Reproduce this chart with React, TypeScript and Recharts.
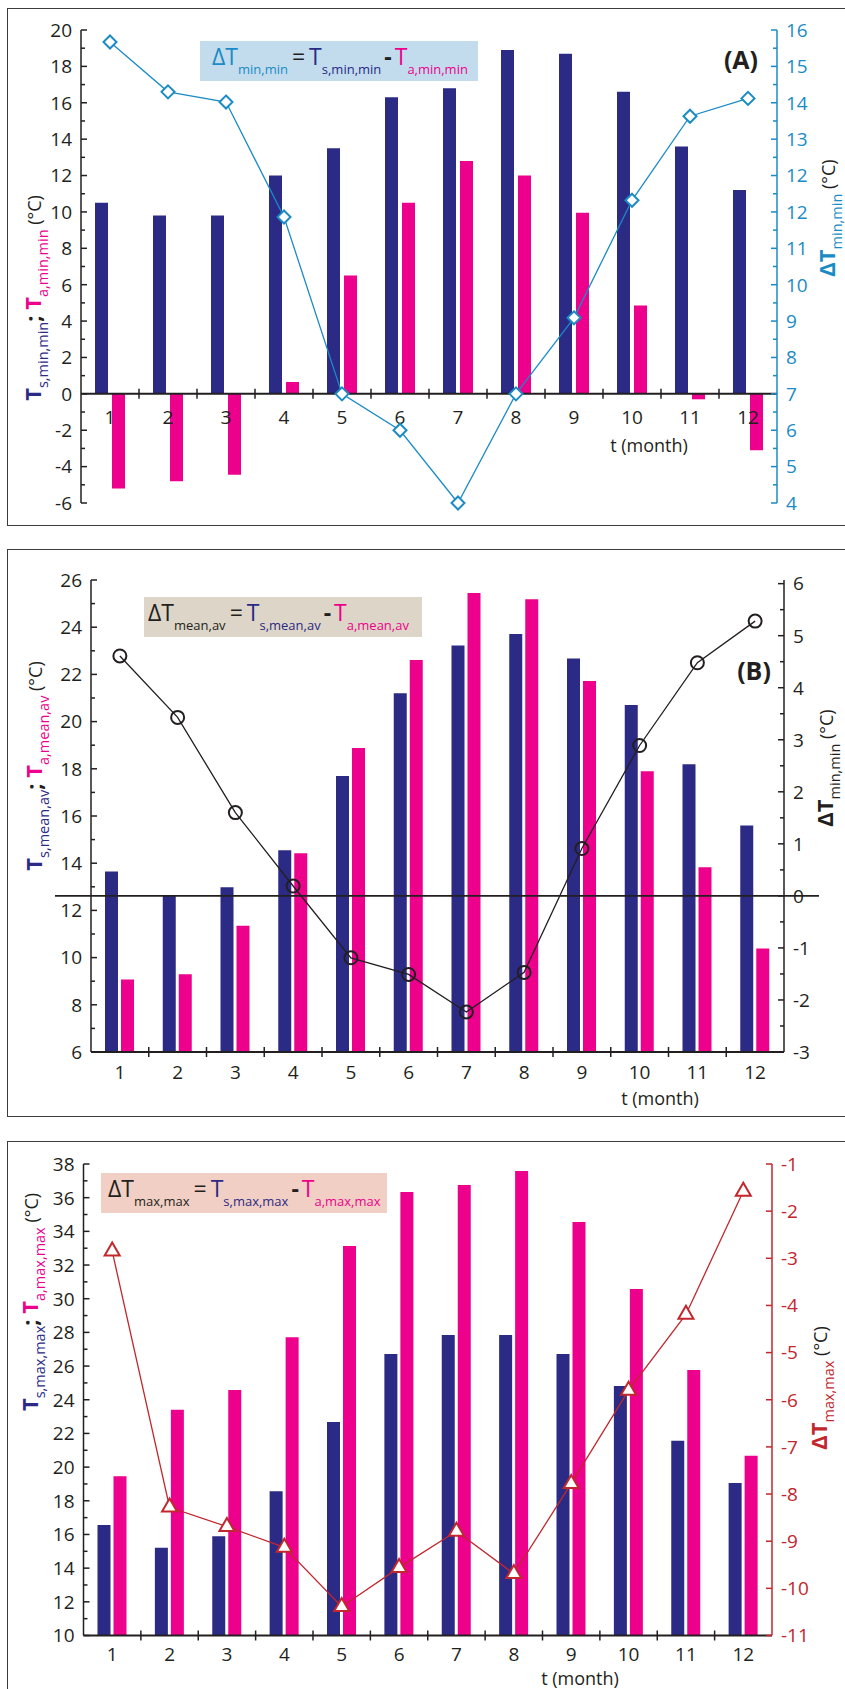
import React from 'react';
import { ComposedChart, Bar, Line, XAxis, YAxis, ReferenceLine, ReferenceDot } from 'recharts';

const FONT = "'Open Sans', 'Noto Sans', sans-serif";
const NAVY = '#2b2a85';
const MAGENTA = '#ec008c';
const BLUE = '#1b8bc5';
const RED = '#c1272d';
const INK = '#231f20';

const months = ['1', '2', '3', '4', '5', '6', '7', '8', '9', '10', '11', '12'];

// (A) minimum of the minimums
const tsMinMin = [10.5, 9.8, 9.8, 12.0, 13.5, 16.3, 16.8, 18.9, 18.7, 16.6, 13.6, 11.2];
const taMinMin = [-5.2, -4.8, -4.45, 0.65, 6.5, 10.5, 12.8, 12.0, 9.95, 4.85, -0.3, -3.1];
const dMinMin = [16.67, 15.3, 15.02, 11.86, 7.0, 6.0, 4.0, 7.0, 9.09, 12.32, 14.63, 15.12];

// (B) mean of the averages
const tsMeanAv = [13.65, 12.65, 12.98, 14.55, 17.69, 21.2, 23.22, 23.71, 22.67, 20.7, 18.19, 15.6];
const taMeanAv = [9.07, 9.29, 11.35, 14.42, 18.88, 22.61, 25.45, 25.18, 21.72, 17.9, 13.83, 10.39];
const dMeanAv = [4.61, 3.43, 1.6, 0.19, -1.19, -1.51, -2.23, -1.47, 0.91, 2.89, 4.48, 5.28];

// (C) maximum of the maximums
const tsMaxMax = [16.56, 15.21, 15.9, 18.57, 22.68, 26.72, 27.84, 27.84, 26.72, 24.81, 21.56, 19.06];
const taMaxMax = [19.46, 23.4, 24.58, 27.71, 33.13, 36.33, 36.75, 37.58, 34.55, 30.57, 25.77, 20.67];
const dMaxMax = [-2.85, -8.28, -8.69, -9.13, -10.39, -9.56, -8.79, -9.69, -7.78, -5.8, -4.19, -1.58];

// axis ticks
const aLeftTicks = [-6, -4, -2, 0, 2, 4, 6, 8, 10, 12, 14, 16, 18, 20];
const aRightTicks = [4, 5, 6, 7, 8, 9, 10, 11, 12, 13, 14, 15, 16, 17];
const aRightLabels = ['4', '5', '6', '7', '8', '9', '10', '11', '12', '12', '13', '14', '15', '16'];
const bLeftTicks = [6, 8, 10, 12, 14, 16, 18, 20, 22, 24, 26];
const bRightTicks = [-3, -2, -1, 0, 1, 2, 3, 4, 5, 6];
const bRightLabels = ['-3', '-2', '-1', '0', '1', '2', '3', '4', '5', '6'];
const cLeftTicks = [10, 12, 14, 16, 18, 20, 22, 24, 26, 28, 30, 32, 34, 36, 38];
const cRightTicks = [-11, -10, -9, -8, -7, -6, -5, -4, -3, -2, -1];
const cRightLabels = ['-11', '-10', '-9', '-8', '-7', '-6', '-5', '-4', '-3', '-2', '-1'];

const withMinor = (ticks: number[]) => {
  const out: number[] = [];
  ticks.forEach((t, i) => {
    out.push(t);
    if (i < ticks.length - 1) out.push((t + ticks[i + 1]) / 2);
  });
  return out;
};

function YTick({ x, y, value, side, color, majors, labels }: any) {
  const i = majors.indexOf(value);
  const dir = side === 'left' ? 1 : -1;
  return (
    <g>
      <line x1={x} x2={x + dir * (i >= 0 ? 6 : 4)} y1={y} y2={y} stroke={color} strokeWidth={1.5} />
      {i >= 0 && (
        <text
          x={x - dir * 9}
          y={y}
          dy="0.36em"
          textAnchor={side === 'left' ? 'end' : 'start'}
          fill={color}
          fontSize={19}
          fontWeight={500}
          fontFamily={FONT}
        >
          {labels ? labels[i] : String(value)}
        </text>
      )}
    </g>
  );
}

function markerRenderer(kind: string, color: string) {
  return (p: any) => {
    const { cx, cy, index } = p;
    if (cx == null || cy == null) return <g key={`m-${index}`} />;
    if (kind === 'diamond') {
      const s = 6.5;
      return (
        <path
          key={`m-${index}`}
          d={`M${cx},${cy - s}L${cx + s},${cy}L${cx},${cy + s}L${cx - s},${cy}Z`}
          fill="#fff"
          stroke={color}
          strokeWidth={2}
        />
      );
    }
    if (kind === 'circle') {
      return <circle key={`m-${index}`} cx={cx} cy={cy} r={6.5} fill="none" stroke={color} strokeWidth={2} />;
    }
    const h = 13;
    const w = 7.5;
    return (
      <path
        key={`m-${index}`}
        d={`M${cx},${cy - (2 * h) / 3}L${cx + w},${cy + h / 3}L${cx - w},${cy + h / 3}Z`}
        fill="#fff"
        stroke={color}
        strokeWidth={2}
      />
    );
  };
}

type PanelProps = {
  top: number;
  height: number;
  margin: { top: number; right: number; bottom: number; left: number };
  ts: number[];
  ta: number[];
  delta: number[];
  leftDomain: [number, number];
  leftTicks: number[];
  rightDomain: [number, number];
  rightTicks: number[];
  rightLabels: string[];
  rightMinor: boolean;
  rightColor: string;
  lineColor: string;
  marker: string;
  base: number;
  labelGap: number;
  barGap: number;
  extendedZero?: boolean;
};

function Panel(props: PanelProps) {
  const {
    top, height, margin, ts, ta, delta, leftDomain, leftTicks, rightDomain, rightTicks,
    rightLabels, rightMinor, rightColor, lineColor, marker, base, labelGap, barGap, extendedZero,
  } = props;
  const data = months.map((m, i) => ({ month: m, ts: ts[i], ta: ta[i], d: delta[i] }));
  const plotWidth = 845 - margin.left - margin.right - 100;
  const step = plotWidth / months.length;

  return (
    <div style={{ position: 'absolute', left: 0, top }}>
      <ComposedChart width={845} height={height} data={data} margin={margin} barSize={13} barGap={barGap}>
        <XAxis dataKey="month" hide />
        <YAxis
          yAxisId="left"
          orientation="left"
          width={50}
          domain={leftDomain}
          ticks={withMinor(leftTicks)}
          interval={0}
          tickSize={0}
          tickMargin={0}
          tickLine={false}
          axisLine={{ stroke: INK, strokeWidth: 1.5 }}
          tick={(p: any) => <YTick x={p.x} y={p.y} value={p.payload.value} side="left" color={INK} majors={leftTicks} />}
        />
        <YAxis
          yAxisId="right"
          orientation="right"
          width={50}
          domain={rightDomain}
          ticks={rightMinor ? withMinor(rightTicks) : rightTicks}
          interval={0}
          tickSize={0}
          tickMargin={0}
          tickLine={false}
          axisLine={{ stroke: rightColor, strokeWidth: 1.5 }}
          tick={(p: any) => (
            <YTick x={p.x} y={p.y} value={p.payload.value} side="right" color={rightColor} majors={rightTicks} labels={rightLabels} />
          )}
        />
        <Bar yAxisId="left" dataKey="ts" fill={NAVY} isAnimationActive={false} />
        <Bar yAxisId="left" dataKey="ta" fill={MAGENTA} isAnimationActive={false} />
        <ReferenceLine yAxisId="left" y={base} stroke={INK} strokeWidth={2} ifOverflow="visible" />
        {extendedZero && (
          <ReferenceDot
            yAxisId="right"
            x={months[0]}
            y={0}
            ifOverflow="visible"
            shape={(p: any) => (
              <line
                x1={p.cx - step / 2 - 36}
                x2={p.cx - step / 2 + plotWidth + 35}
                y1={p.cy}
                y2={p.cy}
                stroke={INK}
                strokeWidth={1.6}
              />
            )}
          />
        )}
        {months.map((m, i) => (
          <ReferenceDot
            key={m}
            yAxisId="left"
            x={m}
            y={base}
            ifOverflow="visible"
            shape={(p: any) => (
              <g>
                {i < months.length - 1 && (
                  <line x1={p.cx + step / 2} x2={p.cx + step / 2} y1={p.cy - 5} y2={p.cy + 5} stroke={INK} strokeWidth={1.5} />
                )}
                <text
                  x={p.cx}
                  y={p.cy + labelGap}
                  dy="0.36em"
                  textAnchor="middle"
                  fill={INK}
                  fontSize={19}
                  fontWeight={500}
                  fontFamily={FONT}
                >
                  {m}
                </text>
              </g>
            )}
          />
        ))}
        <Line
          yAxisId="right"
          dataKey="d"
          type="linear"
          stroke={lineColor}
          strokeWidth={1.3}
          dot={markerRenderer(marker, lineColor)}
          activeDot={false}
          isAnimationActive={false}
        />
      </ComposedChart>
    </div>
  );
}

const sub = (text: string, color: string, size = 13, shift = -9) => (
  <span style={{ color, fontSize: size, verticalAlign: shift, fontWeight: 500 }}>{text}</span>
);

function Formula({ left, top, width, bg, dColor, s, pad }: any) {
  return (
    <div
      style={{
        position: 'absolute', left, top, width, height: 40, background: bg, boxSizing: 'border-box',
        paddingLeft: pad, paddingTop: 3, fontFamily: FONT, fontSize: 23, fontWeight: 500, lineHeight: '24px',
        whiteSpace: 'nowrap', color: INK,
      }}
    >
      <span style={{ color: dColor }}>ΔT</span>
      {sub(s, dColor)}
      <span style={{ margin: '0 4px' }}>=</span>
      <span style={{ color: NAVY }}>T</span>
      {sub('s,' + s, NAVY)}
      <span style={{ margin: '0 3px', fontWeight: 700 }}>-</span>
      <span style={{ color: MAGENTA }}>T</span>
      {sub('a,' + s, MAGENTA)}
    </div>
  );
}

function VTitle({ cx, cy, children }: any) {
  return (
    <div
      style={{
        position: 'absolute', left: cx, top: cy, transform: 'translate(-50%, -50%) rotate(-90deg)',
        whiteSpace: 'nowrap', fontFamily: FONT, lineHeight: 1, color: INK,
      }}
    >
      {children}
    </div>
  );
}

const bigT = (color: string, text = 'T') => (
  <span style={{ color, fontSize: 22, fontWeight: 700 }}>{text}</span>
);
const unit = <span style={{ fontSize: 18, fontWeight: 500, color: INK }}>&nbsp;(°C)</span>;

function LeftTitle({ cx, cy, s }: any) {
  return (
    <VTitle cx={cx} cy={cy}>
      {bigT(NAVY)}
      {sub('s,' + s, NAVY, 14.5, -7)}
      <span style={{ fontSize: 22, fontWeight: 700 }}>;&nbsp;</span>
      {bigT(MAGENTA)}
      {sub('a,' + s, MAGENTA, 14.5, -7)}
      {unit}
    </VTitle>
  );
}

function RightTitle({ cx, cy, s, color }: any) {
  return (
    <VTitle cx={cx} cy={cy}>
      {bigT(color, 'ΔT')}
      {sub(s, color, 14.5, -7)}
      {unit}
    </VTitle>
  );
}

const frame = (top: number, height: number) => ({
  position: 'absolute' as const, left: 7, top, width: 900, height, boxSizing: 'border-box' as const,
  border: '1.5px solid #3c3c3c',
});

const textAt = (cx: number, cy: number, size: number, weight: number) => ({
  position: 'absolute' as const, left: cx, top: cy, transform: 'translate(-50%, -50%)', whiteSpace: 'nowrap' as const,
  fontFamily: FONT, fontSize: size, fontWeight: weight, color: INK, lineHeight: 1,
});

export default function App() {
  return (
    <div style={{ position: 'relative', width: 845, height: 1689, overflow: 'hidden', background: '#fff' }}>
      <style>{'body{margin:0}'}</style>
      <div style={frame(8, 518)} />
      <div style={frame(549, 568)} />
      <div style={frame(1141, 600)} />

      <Panel
        top={0}
        height={530}
        margin={{ top: 30, right: 18, bottom: 27, left: 31 }}
        ts={tsMinMin}
        ta={taMinMin}
        delta={dMinMin}
        leftDomain={[-6, 20]}
        leftTicks={aLeftTicks}
        rightDomain={[4, 17]}
        rightTicks={aRightTicks}
        rightLabels={aRightLabels}
        rightMinor
        rightColor={BLUE}
        lineColor={BLUE}
        marker="diamond"
        base={0}
        labelGap={23}
        barGap={4}
      />
      <Panel
        top={540}
        height={580}
        margin={{ top: 40, right: 11, bottom: 68, left: 41 }}
        ts={tsMeanAv}
        ta={taMeanAv}
        delta={dMeanAv}
        leftDomain={[6, 26]}
        leftTicks={bLeftTicks}
        rightDomain={[-3, 6.07]}
        rightTicks={bRightTicks}
        rightLabels={bRightLabels}
        rightMinor
        rightColor={INK}
        lineColor={INK}
        marker="circle"
        base={6}
        labelGap={20}
        barGap={3}
        extendedZero
      />
      <Panel
        top={1130}
        height={559}
        margin={{ top: 34, right: 23, bottom: 53.5, left: 33.5 }}
        ts={tsMaxMax}
        ta={taMaxMax}
        delta={dMaxMax}
        leftDomain={[10, 38]}
        leftTicks={cLeftTicks}
        rightDomain={[-11, -1]}
        rightTicks={cRightTicks}
        rightLabels={cRightLabels}
        rightMinor={false}
        rightColor={RED}
        lineColor={RED}
        marker="triangle"
        base={10}
        labelGap={19}
        barGap={3}
      />

      <Formula left={200} top={41} width={278} bg="#c2dcee" dColor={BLUE} s="min,min" pad={12} />
      <Formula left={144} top={597} width={278} bg="#ddd5c7" dColor={INK} s="mean,av" pad={4} />
      <Formula left={101} top={1173} width={286} bg="#f1cfc4" dColor={INK} s="max,max" pad={7} />

      <div style={textAt(741, 59, 25, 700)}>(A)</div>
      <div style={textAt(754, 670, 25, 700)}>(B)</div>

      <div style={textAt(649, 445, 18, 500)}>t (month)</div>
      <div style={textAt(660, 1098, 18, 500)}>t (month)</div>
      <div style={textAt(580, 1678, 18, 500)}>t (month)</div>

      <LeftTitle cx={36} cy={298} s="min,min" />
      <RightTitle cx={830} cy={218} s="min,min" color={BLUE} />
      <LeftTitle cx={37} cy={766} s="mean,av" />
      <RightTitle cx={828} cy={768} s="min,min" color={INK} />
      <LeftTitle cx={33} cy={1302} s="max,max" />
      <RightTitle cx={822} cy={1388} s="max,max" color={RED} />
    </div>
  );
}
